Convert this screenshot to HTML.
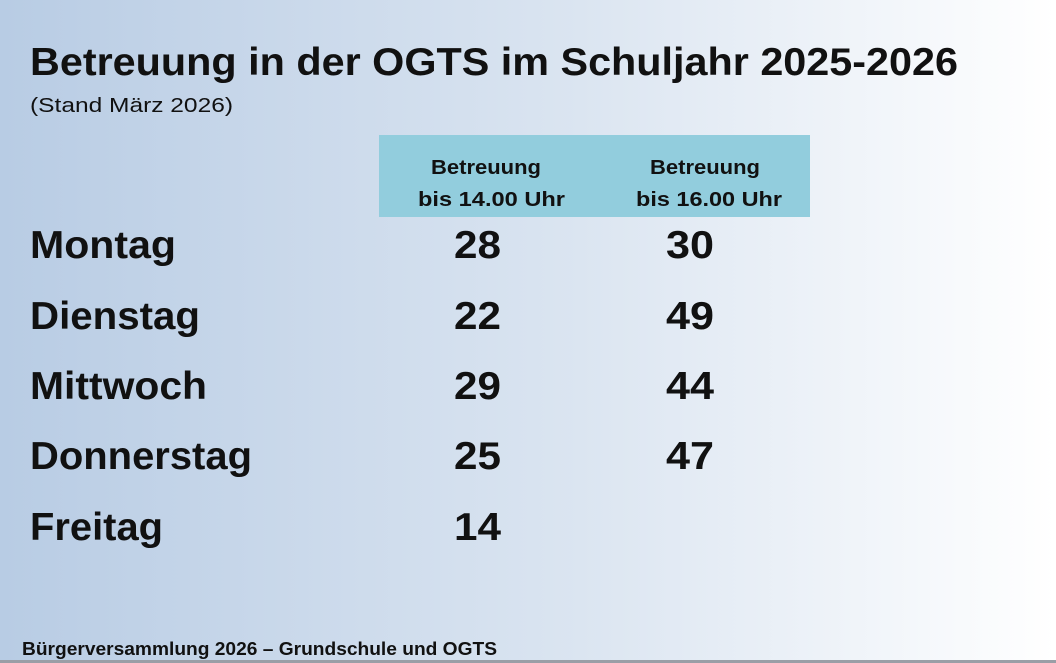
<!DOCTYPE html>
<html><head><meta charset="utf-8"><style>
html,body{margin:0;padding:0;width:1056px;height:663px;overflow:hidden}
svg{display:block}
text{font-family:"Liberation Sans",sans-serif;font-weight:bold;fill:#111}
</style></head><body>
<svg width="1056" height="663" viewBox="0 0 1056 663">
<defs><linearGradient id="g" x1="0" y1="0" x2="1" y2="0">
<stop offset="0" stop-color="#b8cce4"/><stop offset="0.55" stop-color="#dbe5f1"/><stop offset="1" stop-color="#ffffff"/></linearGradient></defs>
<rect width="1056" height="663" fill="url(#g)"/>
<rect x="0" y="660" width="1056" height="3" fill="#9a9ea6"/>
<text x="30" y="75" font-size="39" textLength="928" lengthAdjust="spacingAndGlyphs">Betreuung in der OGTS im Schuljahr 2025-2026</text>
<text x="30" y="112" font-size="20" font-weight="normal" style="font-weight:normal" textLength="203" lengthAdjust="spacingAndGlyphs">(Stand März 2026)</text>
<rect x="379" y="135" width="431" height="82" fill="#92cddd"/>
<g font-size="20">
<text x="431" y="174" textLength="110" lengthAdjust="spacingAndGlyphs">Betreuung</text>
<text x="418" y="206" textLength="147" lengthAdjust="spacingAndGlyphs">bis 14.00 Uhr</text>
<text x="650" y="174" textLength="110" lengthAdjust="spacingAndGlyphs">Betreuung</text>
<text x="636" y="206" textLength="146" lengthAdjust="spacingAndGlyphs">bis 16.00 Uhr</text>
</g>
<g font-size="39">
<text x="30" y="258" textLength="146" lengthAdjust="spacingAndGlyphs">Montag</text>
<text x="30" y="329" textLength="170" lengthAdjust="spacingAndGlyphs">Dienstag</text>
<text x="30" y="399" textLength="177" lengthAdjust="spacingAndGlyphs">Mittwoch</text>
<text x="30" y="469" textLength="222" lengthAdjust="spacingAndGlyphs">Donnerstag</text>
<text x="30" y="540" textLength="133" lengthAdjust="spacingAndGlyphs">Freitag</text>
<text x="454" y="258" textLength="47" lengthAdjust="spacingAndGlyphs">28</text>
<text x="454" y="329" textLength="47" lengthAdjust="spacingAndGlyphs">22</text>
<text x="454" y="399" textLength="47" lengthAdjust="spacingAndGlyphs">29</text>
<text x="454" y="469" textLength="47" lengthAdjust="spacingAndGlyphs">25</text>
<text x="454" y="540" textLength="47" lengthAdjust="spacingAndGlyphs">14</text>
<text x="666" y="258" textLength="48" lengthAdjust="spacingAndGlyphs">30</text>
<text x="666" y="329" textLength="48" lengthAdjust="spacingAndGlyphs">49</text>
<text x="666" y="399" textLength="48" lengthAdjust="spacingAndGlyphs">44</text>
<text x="666" y="469" textLength="48" lengthAdjust="spacingAndGlyphs">47</text>
</g>
<text x="22" y="655" font-size="18" textLength="475" lengthAdjust="spacingAndGlyphs">Bürgerversammlung 2026 – Grundschule und OGTS</text>
</svg>
</body></html>
